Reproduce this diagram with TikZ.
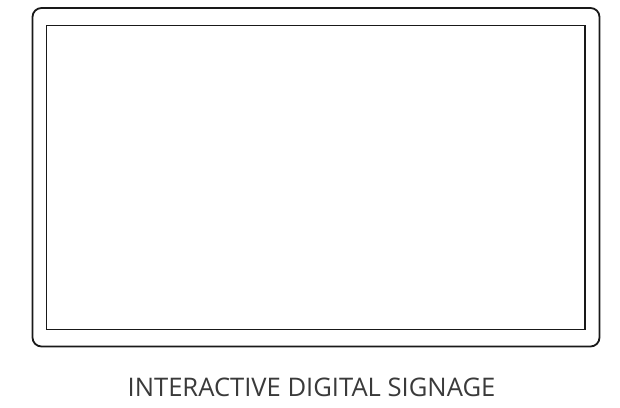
\documentclass[tikz,border=0pt]{standalone}
\usepackage{fontspec}
\setmainfont{Open Sans}
\definecolor{txt}{HTML}{3A3A3A}
\tikzset{frame/.style={draw=black!90, line width=1.8pt}}
\begin{document}
\begin{tikzpicture}[x=1pt,y=-1pt]
\useasboundingbox (0,0) rectangle (620,407);
\draw[frame, rounded corners=9pt] (32.5,8) rectangle (599.5,346.5) node[coordinate] (outer) {};
\draw[frame] (46.5,25.5) rectangle (585,329.5) node[coordinate] (inner) {};
\node[text=txt, font=\fontsize{25.6}{30}\selectfont, anchor=base] (label) at (311.5,396) {INTERACTIVE DIGITAL SIGNAGE};
\end{tikzpicture}
\end{document}
